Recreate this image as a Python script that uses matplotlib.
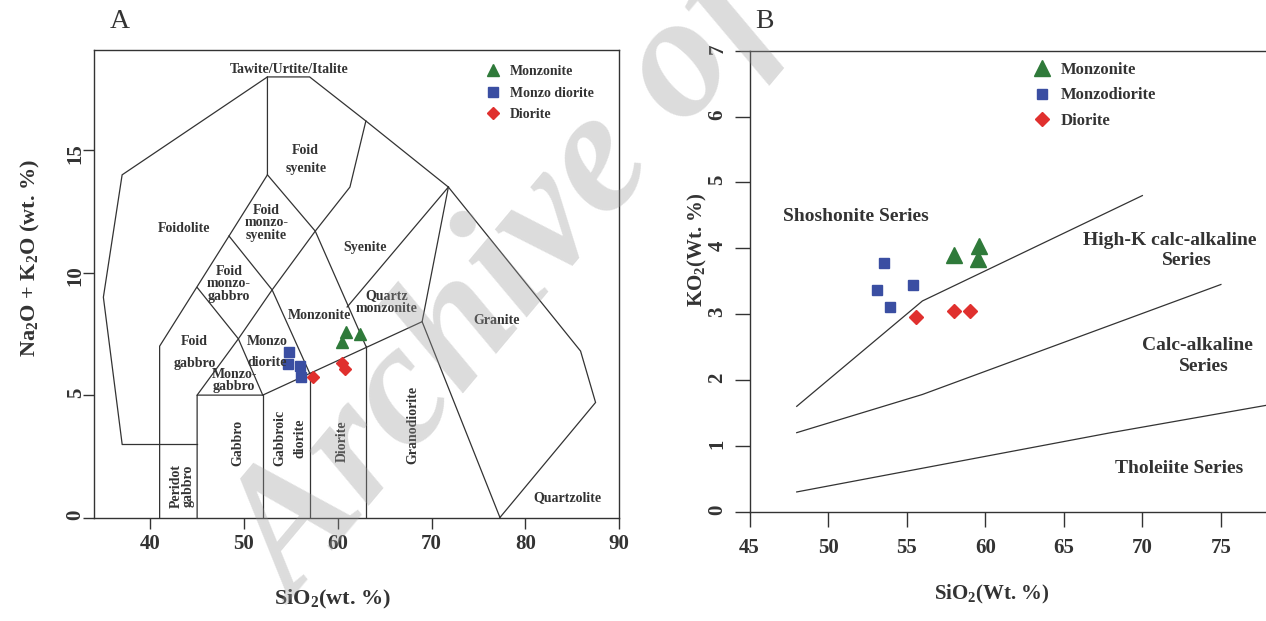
import matplotlib.pyplot as plt

plt.rcParams['font.family'] = 'Liberation Serif'
plt.rcParams['font.weight'] = 'bold'
plt.rcParams['mathtext.fontset'] = 'custom'
plt.rcParams['mathtext.rm'] = 'Liberation Serif:bold'
plt.rcParams['mathtext.it'] = 'Liberation Serif:bold'
plt.rcParams['mathtext.bf'] = 'Liberation Serif:bold'

INK = '#333333'
GREEN = '#2f7a3a'
BLUE = '#3a4ea2'
RED = '#e0302e'

# --- A: total alkali vs silica (plutonic) ---
tas_monzonite_sio2 = [60.85, 62.37, 60.45]
tas_monzonite_alk = [7.58, 7.48, 7.17]
tas_monzodiorite_sio2 = [54.75, 54.7, 56.0, 56.05]
tas_monzodiorite_alk = [6.78, 6.27, 6.2, 5.75]
tas_diorite_sio2 = [57.4, 60.5, 60.8]
tas_diorite_alk = [5.75, 6.3, 6.05]

# field boundaries as polylines of (SiO2, Na2O+K2O)
tas_boundaries = [
    [(37, 3), (35, 9), (37, 14), (52.5, 18), (57, 18), (63, 16.2),
     (71.8, 13.5), (85.9, 6.8), (87.5, 4.7), (77.3, 0)],
    [(37, 3), (45, 3)],
    [(41, 0), (41, 7), (48.4, 11.5), (52.5, 14), (52.5, 18)],
    [(45, 0), (45, 5), (52, 5), (69, 8), (71.8, 13.5)],
    [(52, 0), (52, 5)],
    [(57, 0), (57, 5.9)],
    [(63, 0), (63, 7)],
    [(69, 8), (77.3, 0)],
    [(45, 5), (49.4, 7.3), (53, 9.3), (57.6, 11.7), (61.3, 13.5), (63, 16.2)],
    [(45, 9.4), (49.4, 7.3), (52, 5)],
    [(48.4, 11.5), (53, 9.3), (57, 5.9)],
    [(52.5, 14), (57.6, 11.7), (63, 7)],
    [(61, 8.6), (71.8, 13.5)],
]

# field names: (text, SiO2, alkali, rotation)
tas_fields = [
    ('Tawite/Urtite/Italite', 54.8, 18.3, 0),
    ('Foid', 56.5, 15.0, 0),
    ('syenite', 56.6, 14.25, 0),
    ('Foidolite', 43.6, 11.8, 0),
    ('Foid\nmonzo-\nsyenite', 52.4, 12.05, 0),
    ('Syenite', 62.9, 11.05, 0),
    ('Foid\nmonzo-\ngabbro', 48.4, 9.55, 0),
    ('Quartz\nmonzonite', 65.2, 8.8, 0),
    ('Monzonite', 58.1, 8.27, 0),
    ('Granite', 76.9, 8.05, 0),
    ('Foid', 44.75, 7.18, 0),
    ('gabbro', 44.7, 6.3, 0),
    ('Monzo', 52.5, 7.18, 0),
    ('diorite', 52.5, 6.32, 0),
    ('Monzo-\ngabbro', 48.95, 5.6, 0),
    ('Peridot\ngabbro', 43.4, 1.3, 90),
    ('Gabbro', 49.3, 3.05, 90),
    ('Gabbroic', 53.8, 3.25, 90),
    ('diorite', 56.0, 3.25, 90),
    ('Diorite', 60.5, 3.1, 90),
    ('Granodiorite', 68.0, 3.8, 90),
    ('Quartzolite', 84.5, 0.8, 0),
]

# --- B: K2O vs SiO2 series ---
k_monzonite_sio2 = [58.0, 59.6, 59.55]
k_monzonite_k2o = [3.9, 4.03, 3.84]
k_monzodiorite_sio2 = [53.55, 53.08, 55.37, 53.93]
k_monzodiorite_k2o = [3.78, 3.37, 3.44, 3.11]
k_diorite_sio2 = [55.57, 58.02, 59.02]
k_diorite_k2o = [2.96, 3.05, 3.05]

series_boundaries = [
    [(48, 1.6), (56, 3.2), (70, 4.8)],
    [(48, 1.2), (56, 1.78), (75, 3.45)],
    [(48, 0.3), (68, 1.2), (78, 1.62)],
]

series_names = [
    ('Shoshonite Series', 51.75, 4.48),
    ('High-K calc-alkaline', 71.75, 4.12),
    ('Series', 72.8, 3.82),
    ('Calc-alkaline', 73.5, 2.52),
    ('Series', 73.9, 2.2),
    ('Tholeiite Series', 72.35, 0.65),
]

W, H = 1266, 621
fig = plt.figure(figsize=(W / 100, H / 100), dpi=100)


def frac_box(left, top, right, bottom):
    return [left / W, 1 - bottom / H, (right - left) / W, (bottom - top) / H]


axA = fig.add_axes(frac_box(94, 50, 619, 517.5))
axB = fig.add_axes(frac_box(749.6, 50.7, 749.6 + 35 * 15.71, 511.7))

# ---- panel A ----
for line in tas_boundaries:
    xs, ys = zip(*line)
    axA.plot(xs, ys, color=INK, lw=0.9, solid_joinstyle='miter')

for text, x, y, rot in tas_fields:
    axA.text(x, y, text, rotation=rot, ha='center', va='center',
             fontsize=10, color=INK, linespacing=0.95)

hA1, = axA.plot(tas_monzonite_sio2, tas_monzonite_alk, '^', color=GREEN, ms=9, ls='none', label='Monzonite')
hA2, = axA.plot(tas_monzodiorite_sio2, tas_monzodiorite_alk, 's', color=BLUE, ms=7, ls='none', label='Monzo diorite')
hA3, = axA.plot(tas_diorite_sio2, tas_diorite_alk, 'D', color=RED, ms=6, ls='none', label='Diorite')
axA.legend(handles=[hA1, hA2, hA3], loc='upper left', bbox_to_anchor=(0.745, 0.968),
           frameon=False, borderpad=0, borderaxespad=0, handlelength=1.2,
           handletextpad=0.6, labelspacing=0.62, prop={'size': 10, 'weight': 'bold'},
           labelcolor=INK)

axA.set_xlim(34, 90)
axA.set_ylim(0, 19.1)
axA.set_xticks([40, 50, 60, 70, 80, 90])
axA.set_yticks([0, 5, 10, 15])
axA.tick_params(direction='out', length=8, width=1, color=INK, labelcolor=INK,
                labelsize=15, top=False, right=False)
axA.tick_params(axis='x', pad=4)
axA.tick_params(axis='y', labelrotation=90, pad=-2)
for s in axA.spines.values():
    s.set_color(INK)
    s.set_linewidth(1)

axA.text(0.455, -0.176, r'SiO$_2$(wt. %)', transform=axA.transAxes,
         ha='center', va='center', fontsize=16, color=INK)
fig.text(30 / W, 1 - 258 / H, r'Na$_2$O + K$_2$O (wt. %)', rotation=90,
         ha='center', va='center', fontsize=16, color=INK)

# ---- panel B ----
for line in series_boundaries:
    xs, ys = zip(*line)
    axB.plot(xs, ys, color=INK, lw=0.9)

for text, x, y in series_names:
    axB.text(x, y, text, ha='center', va='center', fontsize=14, color=INK)

hB1, = axB.plot(k_monzonite_sio2, k_monzonite_k2o, '^', color=GREEN, ms=11, ls='none', label='Monzonite')
hB2, = axB.plot(k_monzodiorite_sio2, k_monzodiorite_k2o, 's', color=BLUE, ms=7.5, ls='none', label='Monzodiorite')
hB3, = axB.plot(k_diorite_sio2, k_diorite_k2o, 'D', color=RED, ms=7, ls='none', label='Diorite')
axB.legend(handles=[hB1, hB2, hB3], loc='upper left', bbox_to_anchor=(0.513, 0.975),
           frameon=False, borderpad=0, borderaxespad=0, handlelength=1.2,
           handletextpad=0.55, labelspacing=0.55, prop={'size': 12, 'weight': 'bold'},
           labelcolor=INK)

axB.set_xlim(45, 80)
axB.set_ylim(0, 7)
axB.set_xticks([45, 50, 55, 60, 65, 70, 75])
axB.set_yticks([0, 1, 2, 3, 4, 5, 6, 7])
axB.tick_params(direction='out', length=11, width=1, color=INK, labelcolor=INK,
                labelsize=15, top=False, right=False)
axB.tick_params(axis='x', pad=8)
axB.tick_params(axis='y', labelrotation=90, pad=5)
axB.spines['right'].set_visible(False)
for s in axB.spines.values():
    s.set_color(INK)
    s.set_linewidth(1)

fig.text(992 / W, 1 - 594 / H, r'SiO$_2$(Wt. %)', ha='center', va='center',
         fontsize=15, color=INK)
fig.text(697 / W, 1 - 250 / H, r'KO$_2$(Wt. %)', rotation=90,
         ha='center', va='center', fontsize=15, color=INK)

# panel letters
fig.text(120 / W, 1 - 22 / H, 'A', ha='center', va='center', fontsize=20,
         fontweight='normal', color=INK)
fig.text(764 / W, 1 - 22 / H, 'B', ha='center', va='center', fontsize=20,
         fontweight='normal', color=INK)

# diagonal watermark
fig.text(295 / W, 1 - 605 / H, 'Archive of SID', rotation=50,
         rotation_mode='anchor', ha='left', va='baseline', fontsize=127,
         fontstyle='italic', fontweight='bold', color='#9a9a9a', alpha=0.34,
         zorder=10)

fig.savefig('out.png', dpi=100)
